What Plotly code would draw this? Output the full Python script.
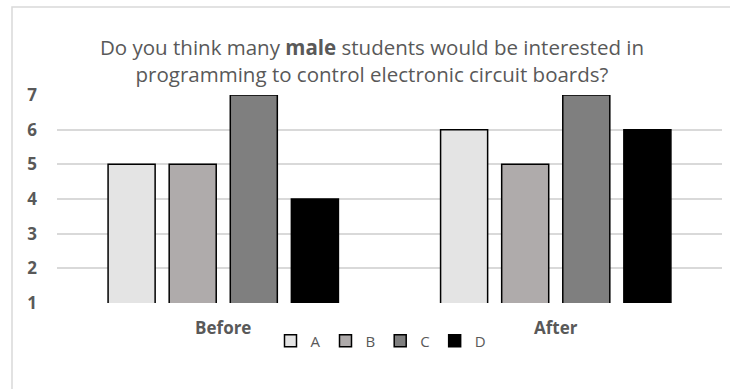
import plotly.graph_objects as go

categories = ["Before", "After"]
series_names = ["A", "B", "C", "D"]
values_A = [5, 6]
values_B = [5, 5]
values_C = [7, 7]
values_D = [4, 6]
y_ticks = [1, 2, 3, 4, 5, 6, 7]

colors = ["#e4e4e4", "#afabab", "#7f7f7f", "#000000"]
all_values = [values_A, values_B, values_C, values_D]

fig = go.Figure()
for name, vals, col in zip(series_names, all_values, colors):
    fig.add_trace(go.Bar(
        x=categories, y=vals, name=name,
        marker=dict(color=col, line=dict(color="#000000", width=1.5)),
    ))

W, H = 730, 389
L, R, T, B = 57, 8, 95, 86
pw, ph = W - L - R, H - T - B

def px_x(px):
    return (px - L) / pw

def px_y(py):
    return (H - B - py) / ph

fig.add_shape(type="rect", xref="paper", yref="paper",
              x0=px_x(12), x1=px_x(740), y0=px_y(7), y1=px_y(400),
              line=dict(color="#d9d9d9", width=1.5), fillcolor="rgba(0,0,0,0)", layer="below")

fig.update_layout(
    width=W, height=H,
    margin=dict(l=L, r=R, t=T, b=B),
    paper_bgcolor="white", plot_bgcolor="white",
    barmode="group", bargap=0.265, bargroupgap=0.23,
    title=dict(
        text="Do you think many <b>male</b> students would be interested in<br>programming to control electronic circuit boards?",
        x=372 / W, xanchor="center", xref="container",
        y=1 - 55 / H, yanchor="middle", yref="container",
        font=dict(family="Open Sans", size=20.5, color="#595959"),
    ),
    font=dict(family="Open Sans", color="#595959"),
    xaxis=dict(showline=False, showgrid=False, ticks="",
               tickfont=dict(size=17, color="#595959", weight="bold"),
               ticklabelstandoff=13),
    yaxis=dict(range=[1, 7], tickvals=y_ticks, showgrid=True, gridcolor="#d9d9d9",
               gridwidth=1.5, zeroline=False, showline=False, ticks="",
               tickfont=dict(size=17, color="#595959", weight="bold"), ticklabelstandoff=19),
    legend=dict(orientation="h", x=px_x(381), xanchor="center",
                y=px_y(341), yanchor="middle",
                font=dict(size=15, color="#595959"), itemwidth=30,
                tracegroupgap=0, traceorder="normal"),
)

fig.write_html("out.html")
